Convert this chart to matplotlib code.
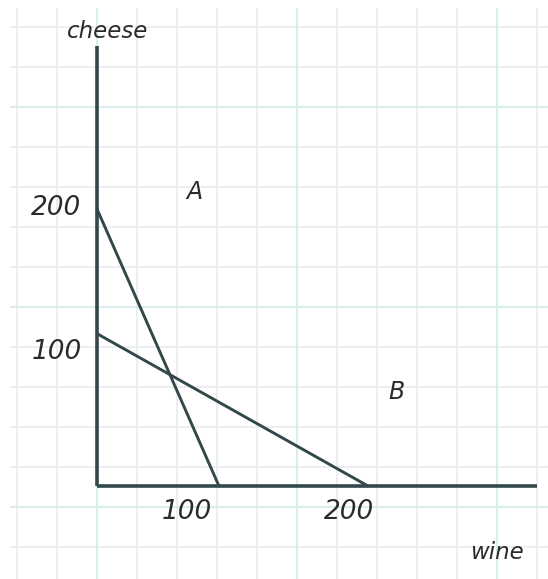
import matplotlib
matplotlib.use("Agg")
import matplotlib.pyplot as plt

# Production possibilities of two countries (wine vs cheese)
countries = ["A", "B"]
cheese_max = [200, 110]   # cheese produced with no wine
wine_max = [90, 200]      # wine produced with no cheese

cheese_ticks = [100, 200]
cheese_tick_labels = ["100", "200"]
wine_tick_labels = ["100", "200"]

W, H = 548, 579
fig = plt.figure(figsize=(W / 100, H / 100), dpi=100)
fig.patch.set_facecolor("white")

# graph-paper background in pixel units
bg = fig.add_axes([0, 0, 1, 1])
bg.set_xlim(0, W)
bg.set_ylim(H, 0)
bg.axis("off")
minor_c = "#ebeeee"
major_c = "#d6edeb"
for x in range(17, W, 40):
    c = major_c if (x - 97) % 200 == 0 else minor_c
    bg.plot([x, x], [9, H], color=c, lw=1.3, zorder=1 if c == minor_c else 2)
for y in range(27, H, 40):
    c = major_c if (y - 107) % 200 == 0 else minor_c
    bg.plot([11, W], [y, y], color=c, lw=1.3, zorder=1 if c == minor_c else 2)

# chart in data units
ax = fig.add_axes([0, 0, 1, 1])
ax.patch.set_alpha(0)
sx, sy = 1.355, 1.385           # pixels per unit
ox, oy = 97, H - 486            # origin in pixels (from left / bottom)
ax.set_xlim(-ox / sx, (W - ox) / sx)
ax.set_ylim(-oy / sy, (H - oy) / sy)
ax.axis("off")

ink = "#33484a"
# axes
ax.plot([0, 0], [0, 318], color=ink, lw=2.6, solid_capstyle="butt")
ax.plot([0, 325], [0, 0], color=ink, lw=2.6, solid_capstyle="butt")

# frontiers
for cm, wm in zip(cheese_max, wine_max):
    ax.plot([0, wm], [cm, 0], color=ink, lw=2.1, solid_capstyle="round")

font = dict(family="DejaVu Sans", style="oblique", color="#2b2b2b")

ax.text(8, 328, "cheese", fontsize=16.5, ha="center", va="center", **font)
ax.text(295, -48, "wine", fontsize=16.5, ha="center", va="center", **font)

for v, lab in zip(cheese_ticks, cheese_tick_labels):
    ax.text(-30, v - (3 if v == 100 else -1), lab, fontsize=19, ha="center",
            va="center", **font)

wine_label_x = [66, 186]
for x, lab in zip(wine_label_x, wine_tick_labels):
    ax.text(x, -19, lab, fontsize=19, ha="center", va="center", **font)

country_pos = [(72, 212), (221, 68)]
for name, (x, y) in zip(countries, country_pos):
    ax.text(x, y, name, fontsize=17, ha="center", va="center", **font)

fig.savefig("out.png", dpi=100, facecolor="white")
